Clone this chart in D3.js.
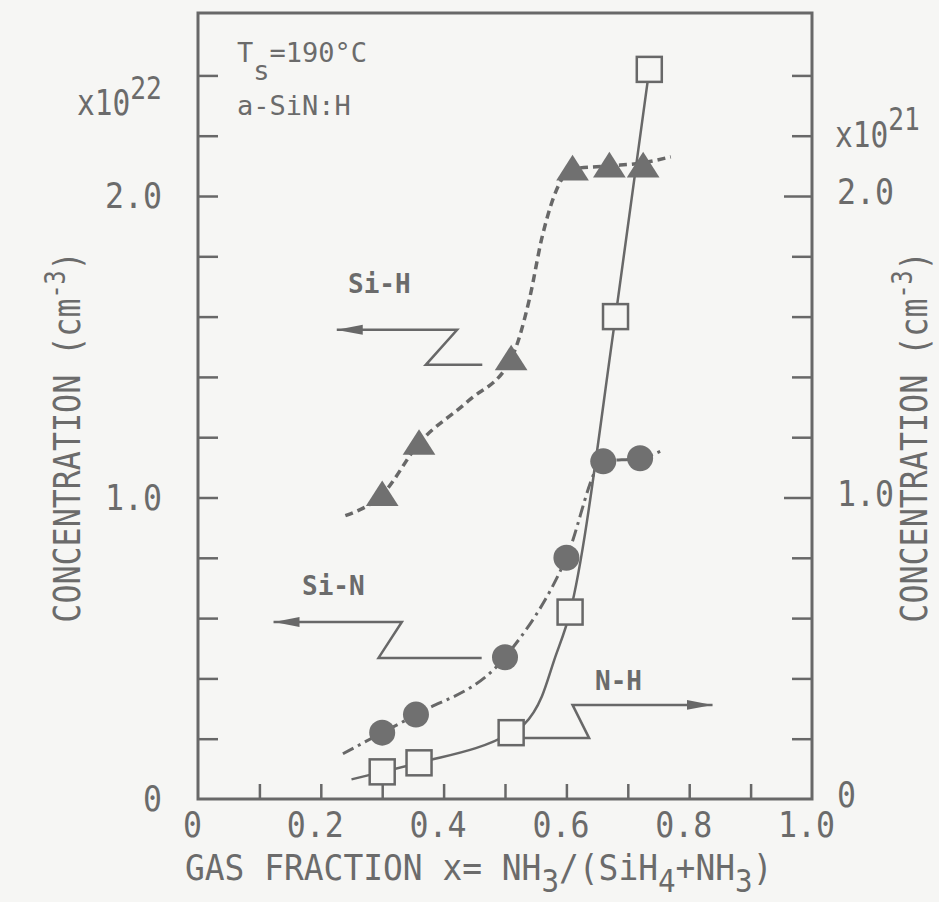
<!DOCTYPE html>
<html lang="en">
<head>
<meta charset="UTF-8">
<title>Concentration vs gas fraction</title>
<script src="https://cdn.jsdelivr.net/npm/d3@7"></script>
<style>
  body { margin: 0; background: #f6f6f4; }
  svg text { font-family: "DejaVu Sans Mono", monospace; fill: #6b6b6b; }
</style>
</head>
<body>
<div id="grafica"></div>
<script>
// values: gas fraction x, concentration
// Si-H and Si-N use the left axis (x10^22), N-H the right axis (x10^21)
siH_x = [0.30, 0.36, 0.51, 0.61, 0.67, 0.725]
siH_y = [1.01, 1.18, 1.46, 2.09, 2.10, 2.10]
siN_x = [0.30, 0.355, 0.50, 0.60, 0.66, 0.72]
siN_y = [0.22, 0.28, 0.47, 0.80, 1.12, 1.13]
nH_x  = [0.30, 0.36, 0.51, 0.606, 0.68, 0.735]
nH_y  = [0.09, 0.12, 0.22, 0.62, 1.60, 2.42]

// hand drawn guide curves through the points
siH_fit_x = [0.24, 0.30, 0.36, 0.44, 0.51, 0.54, 0.56, 0.58, 0.61, 0.67, 0.725, 0.77]
siH_fit_y = [0.94, 1.01, 1.18, 1.32, 1.46, 1.66, 1.86, 2.00, 2.09, 2.10, 2.11, 2.13]
siN_fit_x = [0.236, 0.30, 0.355, 0.50, 0.60, 0.66, 0.72, 0.76]
siN_fit_y = [0.15, 0.22, 0.28, 0.47, 0.80, 1.12, 1.13, 1.16]
nH_fit_x  = [0.25, 0.30, 0.36, 0.51, 0.53, 0.56, 0.58, 0.606, 0.68, 0.735]
nH_fit_y  = [0.065, 0.09, 0.12, 0.22, 0.245, 0.34, 0.46, 0.62, 1.60, 2.42]

// z-shaped arrows pointing to the axis used by each curve
siH_arrow_x = [0.463, 0.371, 0.422, 0.226]
siH_arrow_y = [1.44, 1.44, 1.556, 1.556]
siN_arrow_x = [0.462, 0.294, 0.332, 0.123]
siN_arrow_y = [0.468, 0.468, 0.587, 0.587]
nH_arrow_x  = [0.518, 0.637, 0.61, 0.838]
nH_arrow_y  = [0.202, 0.202, 0.312, 0.312]

// ticks
x_ticks  = [0.1, 0.2, 0.3, 0.4, 0.5, 0.6, 0.7, 0.8, 0.9]
x_labels = [0, 0.2, 0.4, 0.6, 0.8, 1.0]
y_ticks  = [0.2, 0.4, 0.6, 0.8, 1.0, 1.2, 1.4, 1.6, 1.8, 2.0, 2.2, 2.4]
y_major  = [1.0, 2.0]
y_labels = [0, 1.0, 2.0]

ink = '#686868'
paper = '#f6f6f4'

svg = d3
        .select('#grafica')
        .append('svg')
        .attr('width', 939)
        .attr('height', 902)

svg.append('rect').attr('width', 939).attr('height', 902).attr('fill', paper)

x = d3.scaleLinear().domain([0, 1]).range([198, 812])
y = d3.scaleLinear().domain([0, 2.607]).range([799, 13])

fmt = d => d === 0 ? '0' : d3.format('.1f')(d)

function clean(g) {
  g.select('.domain').remove()
  g.selectAll('line').attr('stroke', ink).attr('stroke-width', 2.5)
}
function labels(g) {
  g.select('.domain').remove()
  g.selectAll('text')
    .style('font-size', '36px')
    .attr('textLength', d => fmt(d).length * 19)
    .attr('lengthAdjust', 'spacingAndGlyphs')
}

// inward ticks
svg.append('g')
  .attr('transform', `translate(${x(0)},0)`)
  .call(d3.axisRight(y).tickValues(y_ticks).tickSize(20).tickFormat(''))
  .call(clean)
svg.append('g')
  .attr('transform', `translate(${x(1)},0)`)
  .call(d3.axisLeft(y).tickValues(y_ticks.filter(v => !y_major.includes(v))).tickSize(20).tickFormat(''))
  .call(clean)
svg.append('g')
  .attr('transform', `translate(${x(1)},0)`)
  .call(d3.axisLeft(y).tickValues(y_major).tickSize(28).tickFormat(''))
  .call(clean)
svg.append('g')
  .attr('transform', `translate(0,${y(0)})`)
  .call(d3.axisTop(x).tickValues(x_ticks).tickSize(15).tickFormat(''))
  .call(clean)

// tick labels
svg.append('g')
  .attr('transform', `translate(${x(0)},0)`)
  .call(d3.axisLeft(y).tickValues(y_labels).tickSize(0).tickPadding(36).tickFormat(fmt))
  .call(labels)
svg.append('g')
  .attr('transform', `translate(${x(1)},-4)`)
  .call(d3.axisRight(y).tickValues(y_labels).tickSize(0).tickPadding(25).tickFormat(fmt))
  .call(labels)
svg.append('g')
  .attr('transform', `translate(-6,${y(0)})`)
  .call(d3.axisBottom(x).tickValues(x_labels).tickSize(0).tickPadding(12).tickFormat(fmt))
  .call(labels)

// frame
svg.append('rect')
  .attr('x', x(0))
  .attr('y', y(y.domain()[1]))
  .attr('width', x(1) - x(0))
  .attr('height', y(0) - y(y.domain()[1]))
  .attr('fill', 'none')
  .attr('stroke', ink)
  .attr('stroke-width', 3)

// curves
curva = d3.line()
  .x(d => x(d[0]))
  .y(d => y(d[1]))
  .curve(d3.curveMonotoneX)

svg.append('path')
  .attr('d', curva(d3.zip(siH_fit_x, siH_fit_y)))
  .attr('fill', 'none').attr('stroke', ink).attr('stroke-width', 3.5)
  .attr('stroke-dasharray', '8,5')
svg.append('path')
  .attr('d', curva(d3.zip(siN_fit_x, siN_fit_y)))
  .attr('fill', 'none').attr('stroke', ink).attr('stroke-width', 3)
  .attr('stroke-dasharray', '12,5,3,5')
svg.append('path')
  .attr('d', curva(d3.zip(nH_fit_x, nH_fit_y)))
  .attr('fill', 'none').attr('stroke', ink).attr('stroke-width', 2.5)

// arrows
svg.append('defs').append('marker')
  .attr('id', 'head')
  .attr('markerUnits', 'userSpaceOnUse')
  .attr('viewBox', '0 -6 26 12')
  .attr('refX', 26).attr('refY', 0)
  .attr('markerWidth', 26).attr('markerHeight', 12)
  .attr('orient', 'auto')
  .append('path')
  .attr('d', 'M0,-5L26,0L0,5Z')
  .attr('fill', ink)

flecha = d3.line().x(d => x(d[0])).y(d => y(d[1]))
;[[siH_arrow_x, siH_arrow_y], [siN_arrow_x, siN_arrow_y], [nH_arrow_x, nH_arrow_y]].forEach(a => {
  svg.append('path')
    .attr('d', flecha(d3.zip(a[0], a[1])))
    .attr('fill', 'none')
    .attr('stroke', ink)
    .attr('stroke-width', 2.5)
    .attr('marker-end', 'url(#head)')
})

// markers
tri = d3.symbol().type(d3.symbolTriangle).size(420)
svg.append('g').selectAll('path')
  .data(d3.zip(siH_x, siH_y))
  .join('path')
  .attr('d', tri)
  .attr('transform', d => `translate(${x(d[0])},${y(d[1]) + 3}) scale(1.05,0.95)`)
  .attr('fill', '#707070')

svg.append('g').selectAll('circle')
  .data(d3.zip(siN_x, siN_y))
  .join('circle')
  .attr('cx', d => x(d[0]))
  .attr('cy', d => y(d[1]))
  .attr('r', 13)
  .attr('fill', '#707070')

svg.append('g').selectAll('rect')
  .data(d3.zip(nH_x, nH_y))
  .join('rect')
  .attr('x', d => x(d[0]) - 12.5)
  .attr('y', d => y(d[1]) - 12.5)
  .attr('width', 25)
  .attr('height', 25)
  .attr('fill', paper)
  .attr('stroke', ink)
  .attr('stroke-width', 2.5)

// texts (narrow typewriter look: squeeze horizontally)
t = svg.append('text')
  .attr('transform', 'translate(185,880) scale(0.914,1)')
  .style('font-size', '36px')
t.append('tspan').text('GAS FRACTION x= NH')
t.append('tspan').attr('dy', 12).style('font-size', '32px').text('3')
t.append('tspan').attr('dy', -12).text('/(SiH')
t.append('tspan').attr('dy', 12).style('font-size', '32px').text('4')
t.append('tspan').attr('dy', -12).text('+NH')
t.append('tspan').attr('dy', 12).style('font-size', '32px').text('3')
t.append('tspan').attr('dy', -12).text(')')

;[80, 927].forEach(px => {
  c = svg.append('text')
    .attr('transform', `translate(${px},437) rotate(-90) scale(0.834,1)`)
    .attr('text-anchor', 'middle')
    .style('font-size', '38px')
  c.append('tspan').text('CONCENTRATION (cm')
  c.append('tspan').attr('dy', -15).style('font-size', '28px').text('-3')
  c.append('tspan').attr('dy', 15).text(')')
})

e = svg.append('text').attr('transform', 'translate(77,115) scale(0.82,1)').style('font-size', '36px')
e.append('tspan').text('x10')
e.append('tspan').attr('dy', -16).style('font-size', '32px').text('22')
e = svg.append('text').attr('transform', 'translate(835,147) scale(0.82,1)').style('font-size', '36px')
e.append('tspan').text('x10')
e.append('tspan').attr('dy', -17).style('font-size', '32px').text('21')

ts = svg.append('text').attr('x', 237).attr('y', 62).style('font-size', '27px')
ts.append('tspan').text('T')
ts.append('tspan').attr('dy', 18).text('s')
ts.append('tspan').attr('dy', -18).text('=190°C')
svg.append('text').attr('x', 237).attr('y', 115).style('font-size', '27px').text('a-SiN:H')

svg.append('text').attr('x', 348).attr('y', 293).style('font-size', '26px').style('font-weight', 'bold').text('Si-H')
svg.append('text').attr('x', 302).attr('y', 595).style('font-size', '26px').style('font-weight', 'bold').text('Si-N')
svg.append('text').attr('x', 595).attr('y', 690).style('font-size', '26px').style('font-weight', 'bold').text('N-H')
</script>
</body>
</html>
